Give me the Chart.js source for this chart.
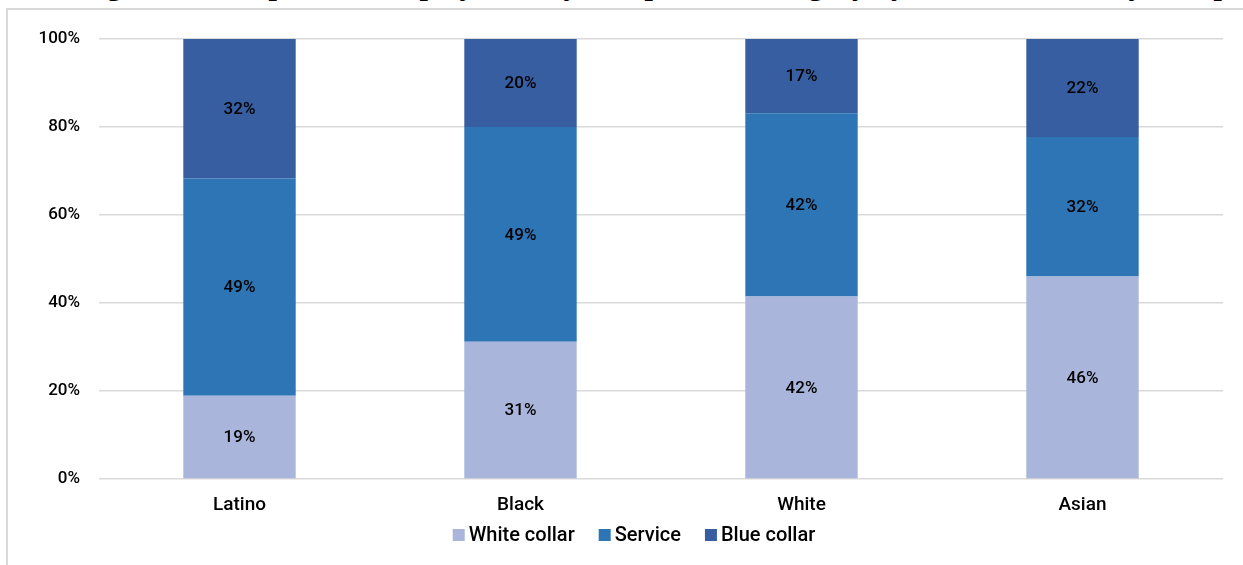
<!DOCTYPE html>
<html>
<head>
<meta charset="utf-8">
<script src="https://cdn.jsdelivr.net/npm/chart.js@4.4.1/dist/chart.umd.min.js"></script>
<style>
  html, body { margin: 0; padding: 0; background: #fff; overflow: hidden; }
  #wrap { position: relative; width: 1243px; height: 565px; }
  #title {
    position: absolute; left: 80px; top: -30px; white-space: nowrap;
    font: bold 30px/30px "Liberation Serif", "Times New Roman", serif; color: #000;
  }
  #frame {
    position: absolute; left: 6px; top: 8px; width: 1260px; height: 600px;
    border-left: 2px solid #d9d9d9; border-top: 2px solid #d9d9d9;
  }
  #chart { position: absolute; left: 0; top: 0; }
</style>
</head>
<body>
<div id="wrap">
  <div id="title">Figure 3, Occupational employment by occupational category by race and ethnicity, Sample region</div>
  <div id="frame"></div>
  <canvas id="chart" width="1243" height="565"></canvas>
</div>
<script>
// Share of workers in each occupational category, by group (%)
const groups = ['Latino', 'Black', 'White', 'Asian'];
const whiteCollar = [18.9, 31.2, 41.5, 46.0];
const service = [49.4, 48.8, 41.6, 31.7];
const blueCollar = [31.7, 20.0, 16.9, 22.3];
const yTicks = [0, 20, 40, 60, 80, 100];

const FONT = 'Roboto, "Liberation Sans", Arial, sans-serif';

// Centered percentage labels inside each stacked segment
const segmentLabels = {
  id: 'segmentLabels',
  afterDatasetsDraw(chart) {
    const ctx = chart.ctx;
    ctx.save();
    ctx.font = '500 17px ' + FONT;
    ctx.fillStyle = '#000';
    ctx.textAlign = 'center';
    ctx.textBaseline = 'middle';
    chart.data.datasets.forEach((ds, i) => {
      const meta = chart.getDatasetMeta(i);
      meta.data.forEach((bar, j) => {
        const p = bar.getProps(['x', 'y', 'base'], true);
        ctx.fillText(Math.round(ds.data[j]) + '%', p.x, (p.y + p.base) / 2 + 1);
      });
    });
    ctx.restore();
  }
};

// Compact legend row under the axis: small square, short gap, label
const bottomLegend = {
  id: 'bottomLegend',
  afterDraw(chart) {
    const ctx = chart.ctx;
    const box = 12, gap = 4, spacing = 24, cx = 634, cy = 535;
    ctx.save();
    ctx.font = '500 20px ' + FONT;
    ctx.textBaseline = 'middle';
    ctx.textAlign = 'left';
    const items = chart.data.datasets.map(ds => ({
      text: ds.label, color: ds.backgroundColor, w: ctx.measureText(ds.label).width
    }));
    const total = items.reduce((s, it) => s + box + gap + it.w, 0) + spacing * (items.length - 1);
    let x = cx - total / 2;
    items.forEach(it => {
      ctx.fillStyle = it.color;
      ctx.fillRect(x, cy - box / 2, box, box);
      ctx.fillStyle = '#000';
      ctx.fillText(it.text, x + box + gap, cy + 1);
      x += box + gap + it.w + spacing;
    });
    ctx.restore();
  }
};

const ctx = document.getElementById('chart').getContext('2d');
new Chart(ctx, {
  type: 'bar',
  data: {
    labels: groups,
    datasets: [
      { label: 'White collar', data: whiteCollar, backgroundColor: '#A9B5DA' },
      { label: 'Service', data: service, backgroundColor: '#2E75B6' },
      { label: 'Blue collar', data: blueCollar, backgroundColor: '#365EA0' }
    ]
  },
  options: {
    responsive: false,
    animation: false,
    layout: { padding: { left: 0, right: 20, top: 39, bottom: 49 } },
    datasets: {
      bar: {
        categoryPercentage: 1,
        barPercentage: 0.4,
        borderWidth: 0
      }
    },
    plugins: {
      legend: { display: false },
      tooltip: { enabled: false }
    },
    scales: {
      x: {
        stacked: true,
        grid: { display: false, drawTicks: false },
        border: { display: false },
        ticks: { color: '#000', padding: 15, font: { family: FONT, size: 19, weight: 500 } },
        afterFit(scale) { scale.height = 37; }
      },
      y: {
        stacked: true,
        min: 0,
        max: 100,
        afterBuildTicks(scale) { scale.ticks = yTicks.map(v => ({ value: v })); },
        grid: { color: '#d9d9d9', lineWidth: 1.5, drawTicks: false },
        border: { display: false },
        ticks: {
          color: '#000',
          padding: 19,
          font: { family: FONT, size: 17, weight: 500 },
          callback: v => v + '%'
        },
        afterFit(scale) { scale.width = 99; }
      }
    }
  },
  plugins: [segmentLabels, bottomLegend]
});
</script>
</body>
</html>
